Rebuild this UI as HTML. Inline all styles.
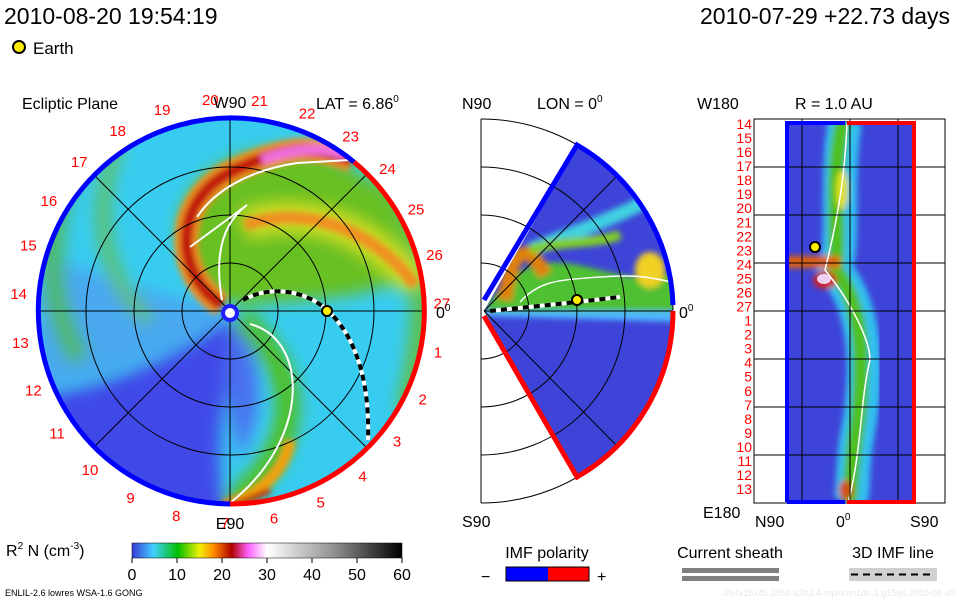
<!DOCTYPE html>
<html><head><meta charset="utf-8"><style>
body{margin:0;background:#fff;}
svg text{font-family:"Liberation Sans",sans-serif;}
</style></head><body>
<svg width="960" height="600" viewBox="0 0 960 600" xmlns="http://www.w3.org/2000/svg">
<defs>
<clipPath id="disk"><circle cx="230" cy="311" r="193"/></clipPath>
<clipPath id="wedge"><path d="M484,311 L577,145 A192,192 0 0 1 577,477 Z"/></clipPath>
<clipPath id="strip"><rect x="786" y="121" width="129" height="382"/></clipPath>
<filter id="bl" x="-30%" y="-30%" width="160%" height="160%"><feGaussianBlur stdDeviation="8"/></filter>
<filter id="bl2" x="-20%" y="-20%" width="140%" height="140%"><feGaussianBlur stdDeviation="3"/></filter>
<linearGradient id="cbar" x1="0" x2="1">
<stop offset="0" stop-color="#3a3ad8"/><stop offset="0.08" stop-color="#40d0ff"/><stop offset="0.17" stop-color="#00c000"/><stop offset="0.25" stop-color="#f0f000"/><stop offset="0.3" stop-color="#ff9000"/><stop offset="0.37" stop-color="#b00000"/><stop offset="0.43" stop-color="#ff60ff"/><stop offset="0.5" stop-color="#ffffff"/><stop offset="0.75" stop-color="#909090"/><stop offset="1" stop-color="#000000"/>
</linearGradient>
</defs>

<text x="4" y="24" font-size="23" fill="#000">2010-08-20 19:54:19</text>
<text x="950" y="24" font-size="23" fill="#000" text-anchor="end">2010-07-29 +22.73 days</text>
<circle cx="19" cy="47" r="6" fill="#ffee00" stroke="#000" stroke-width="2"/>
<text x="33" y="54" font-size="17">Earth</text>

<g>
<text x="22" y="109" font-size="16">Ecliptic Plane</text>
<text x="316" y="109" font-size="16">LAT = 6.86<tspan font-size="10" dy="-7">0</tspan></text>
<g clip-path="url(#disk)">
<circle cx="230" cy="311" r="193" fill="#38ccf0"/>
<g filter="url(#bl)">
<path d="M37,250 C100,280 180,300 230,311 C190,350 100,380 37,390 Z" fill="#48a8f0"/>
<path d="M230,318 C170,360 100,390 37,395 L37,520 L230,520 C205,450 235,380 230,318 Z" fill="#4048e8"/>
<path d="M232,318 C260,350 270,400 240,460 L225,380 Z" fill="#4a70f0"/>
<path d="M230,305 C175,280 150,200 230,160 C300,130 385,160 425,260 C400,300 300,300 230,305 Z" fill="#68c020"/>
<path d="M70,170 C45,230 45,300 80,360" stroke="#50b860" stroke-width="22" fill="none"/>
<path d="M120,140 C90,200 100,280 150,320" stroke="#60c060" stroke-width="14" fill="none"/>
<path d="M380,170 C425,230 432,320 405,410" stroke="#60c040" stroke-width="20" fill="none"/>
<path d="M245,225 C300,205 370,225 415,285" stroke="#d0e020" stroke-width="28" fill="none"/>
<path d="M240,318 C300,370 310,440 230,505" stroke="#50c020" stroke-width="24" fill="none"/>
</g>
<g filter="url(#bl2)">
<path d="M222,305 C175,275 170,200 235,170 S320,150 352,160" stroke="#f09020" stroke-width="24" fill="none"/>
<path d="M222,305 C175,275 170,200 235,170 S320,150 352,160" stroke="#c01810" stroke-width="12" fill="none"/>
<path d="M262,160 C290,150 320,145 345,155" stroke="#f070e0" stroke-width="10" fill="none"/>
<path d="M245,225 C300,205 370,225 415,285" stroke="#f09020" stroke-width="12" fill="none"/>
<path d="M290,440 C285,470 260,495 225,505" stroke="#f0a010" stroke-width="12" fill="none"/>
<path d="M270,490 C250,500 235,505 220,506" stroke="#c02010" stroke-width="6" fill="none"/>
</g>
<g stroke="#000" stroke-width="1" fill="none">
<circle cx="230" cy="311" r="48"/><circle cx="230" cy="311" r="96"/><circle cx="230" cy="311" r="144"/>
<line x1="37" y1="311" x2="423" y2="311"/><line x1="230" y1="118" x2="230" y2="504"/>
<line x1="93" y1="174" x2="367" y2="448"/><line x1="93" y1="448" x2="367" y2="174"/>
</g>
<g stroke="#fff" stroke-width="2" fill="none">
<path d="M250,324 C310,340 310,440 230,503"/>
<path d="M222,300 C215,260 220,225 247,205 L190,247"/>
<path d="M197,217 C215,190 250,170 297,163 L350,160"/>
</g>
<path d="M243,300 C270,285 305,290 327,310 C355,335 370,380 368,440" stroke="#fff" stroke-width="4" fill="none"/>
<path d="M243,300 C270,285 305,290 327,310 C355,335 370,380 368,440" stroke="#000" stroke-width="4" stroke-dasharray="6,5" fill="none"/>
</g>
<path d="M354,162 A193,193 0 1 0 230,504" stroke="#0000ff" stroke-width="5" fill="none"/>
<path d="M354,162 A193,193 0 0 1 230,504" stroke="#ff0000" stroke-width="5" fill="none"/>
<circle cx="230" cy="313" r="7" fill="#fff" stroke="#2020ff" stroke-width="4"/>
<circle cx="327" cy="311" r="5" fill="#ffee00" stroke="#000" stroke-width="2"/>
<g id="carr" font-size="15" fill="#ff0000" text-anchor="middle"></g>
<text x="230" y="108" font-size="16" text-anchor="middle">W90</text>
<text x="230" y="529" font-size="16" text-anchor="middle">E90</text>
<text x="436" y="318" font-size="16">0<tspan font-size="10" dy="-7">0</tspan></text>
</g>

<g>
<text x="462" y="109" font-size="16">N90</text>
<text x="537" y="109" font-size="16">LON = 0<tspan font-size="10" dy="-7">0</tspan></text>
<text x="462" y="527" font-size="16">S90</text>
<text x="679" y="318" font-size="16">0<tspan font-size="10" dy="-7">0</tspan></text>
<g clip-path="url(#wedge)">
<rect x="480" y="140" width="200" height="340" fill="#3e44d8"/>
<g filter="url(#bl2)">
<path d="M484,311 C520,250 560,260 600,270 S660,280 680,270 L680,311 Z" fill="#50c030"/>
<path d="M530,250 C580,230 640,210 680,180" stroke="#40d0e0" stroke-width="14" fill="none"/>
<path d="M505,300 C510,255 525,235 545,275" stroke="#e08010" stroke-width="14" fill="none"/>
<path d="M530,250 C560,240 590,245 620,235" stroke="#80d020" stroke-width="10" fill="none"/>
<path d="M484,311 L680,311 L680,322 L484,316 Z" fill="#50b8ff"/>
<ellipse cx="650" cy="270" rx="15" ry="18" fill="#f0d020"/>
</g>
<path d="M520,302 C540,280 560,280 600,277 S650,278 672,282" stroke="#fff" stroke-width="1.5" fill="none"/>
</g>
<g stroke="#000" stroke-width="1" fill="none">
<line x1="481" y1="119" x2="481" y2="503"/>
<path d="M481,263 A48,48 0 0 1 481,359"/><path d="M481,215 A96,96 0 0 1 481,407"/><path d="M481,167 A144,144 0 0 1 481,455"/><path d="M481,119 A192,192 0 0 1 481,503"/>
<line x1="484" y1="311" x2="672" y2="311"/><line x1="484" y1="311" x2="617" y2="176"/><line x1="484" y1="311" x2="617" y2="446"/>
</g>
<path d="M484,300 L577,145 A192,192 0 0 1 673,305" stroke="#0000ff" stroke-width="5" fill="none"/>
<path d="M484,316 L577,477 A192,192 0 0 0 673,311" stroke="#ff0000" stroke-width="5" fill="none"/>
<path d="M490,311 L577,302 L620,297" stroke="#fff" stroke-width="4" fill="none"/>
<path d="M490,311 L577,302 L620,297" stroke="#000" stroke-width="4" stroke-dasharray="6,5" fill="none"/>
<circle cx="577" cy="300" r="5" fill="#ffee00" stroke="#000" stroke-width="2"/>
</g>

<g>
<text x="697" y="109" font-size="16">W180</text>
<text x="795" y="109" font-size="16">R = 1.0 AU</text>
<text x="703" y="518" font-size="16">E180</text>
<text x="755" y="527" font-size="16">N90</text>
<text x="836" y="527" font-size="16">0<tspan font-size="10" dy="-7">0</tspan></text>
<text x="910" y="527" font-size="16">S90</text>
<rect x="754" y="119" width="191" height="384" fill="none" stroke="#000"/>
<g clip-path="url(#strip)">
<rect x="786" y="121" width="129" height="382" fill="#3e44d8"/>
<g filter="url(#bl2)">
<path d="M845,121 C835,180 845,240 835,270 C860,300 870,350 860,420 C850,470 855,490 850,503" stroke="#30c0f0" stroke-width="34" fill="none"/>
<path d="M843,121 C830,180 840,240 835,270 C860,300 865,350 858,420 C850,470 852,490 848,503" stroke="#50c020" stroke-width="16" fill="none"/>
<path d="M786,262 L840,262" stroke="#e06010" stroke-width="12"/>
<ellipse cx="825" cy="280" rx="12" ry="9" fill="#d02020"/>
<ellipse cx="846" cy="490" rx="7" ry="10" fill="#d05010"/>
<ellipse cx="842" cy="190" rx="6" ry="20" fill="#e0e020"/>
</g>
<ellipse cx="824" cy="279" rx="7" ry="5" fill="#f0d0f0"/>
<path d="M847,124 C845,170 840,210 825,270 C850,300 870,340 870,360 C860,400 862,450 848,503" stroke="#fff" stroke-width="1.5" fill="none"/>
</g>
<g stroke="#000" stroke-width="1">
<line x1="802" y1="119" x2="802" y2="503"/><line x1="850" y1="119" x2="850" y2="503"/><line x1="898" y1="119" x2="898" y2="503"/>
<line x1="754" y1="167" x2="945" y2="167"/><line x1="754" y1="215" x2="945" y2="215"/><line x1="754" y1="263" x2="945" y2="263"/><line x1="754" y1="311" x2="945" y2="311"/><line x1="754" y1="359" x2="945" y2="359"/><line x1="754" y1="407" x2="945" y2="407"/><line x1="754" y1="455" x2="945" y2="455"/>
</g>
<path d="M787,502 L787,123 L845,123" stroke="#0000ff" stroke-width="4" fill="none"/>
<path d="M847,123 L914,123 L914,502 L847,502" stroke="#ff0000" stroke-width="4" fill="none"/>
<path d="M787,502 L845,502" stroke="#0000ff" stroke-width="4"/>
<circle cx="815" cy="247" r="5" fill="#ffee00" stroke="#000" stroke-width="2"/>
<g id="stripLabels" font-size="14" fill="#ff0000" text-anchor="end"></g>
</g>

<text x="6" y="556" font-size="16">R<tspan font-size="10" dy="-7">2</tspan><tspan dy="7"> N (cm</tspan><tspan font-size="10" dy="-7">-3</tspan><tspan dy="7">)</tspan></text>
<rect x="132" y="543" width="270" height="15" fill="url(#cbar)" stroke="#000" stroke-width="0.5"/>
<g id="cbTicks" font-size="16" text-anchor="middle"></g>
<text x="5" y="596" font-size="9">ENLIL-2.6 lowres WSA-1.6 GONG</text>
<text x="955" y="596" font-size="9" fill="#e8e8e8" text-anchor="end">.//64x15x45.2068-a2b2.4-mplumn1de-1.g15q0   2010-08-20</text>
<text x="547" y="558" font-size="16" text-anchor="middle">IMF polarity</text>
<text x="481" y="582" font-size="16">−</text>
<rect x="506" y="567" width="42" height="14" fill="#0000ff"/>
<rect x="548" y="567" width="41" height="14" fill="#ff0000"/>
<rect x="506" y="567" width="83" height="14" fill="none" stroke="#000"/>
<text x="597" y="582" font-size="16">+</text>
<text x="730" y="558" font-size="16" text-anchor="middle">Current sheath</text>
<rect x="682" y="568" width="97" height="5" fill="#808080"/>
<rect x="682" y="576" width="97" height="5" fill="#808080"/>
<text x="893" y="558" font-size="16" text-anchor="middle">3D IMF line</text>
<rect x="849" y="568" width="88" height="13" fill="#d0d0d0"/>
<line x1="851" y1="574.5" x2="935" y2="574.5" stroke="#000" stroke-width="2" stroke-dasharray="7,5"/>
</svg>
<script>
const ns='http://www.w3.org/2000/svg';
const cbTickValues=[0,10,20,30,40,50,60];
const carringtonLabels=['1','2','3','4','5','6','7','8','9','10','11','12','13','14','15','16','17','18','19','20','21','22','23','24','25','26','27'];
const stripLabelValues=['14','15','16','17','18','19','20','21','22','23','24','25','26','27','1','2','3','4','5','6','7','8','9','10','11','12','13'];
const cbX=v=>132+v/60*270;
const cg=document.getElementById('cbTicks');
cbTickValues.forEach(v=>{const t=document.createElementNS(ns,'text');
t.setAttribute('x',cbX(v));t.setAttribute('y',580);t.textContent=v;


cg.appendChild(t);
const l=document.createElementNS(ns,'line');l.setAttribute('x1',cbX(v));l.setAttribute('x2',cbX(v));l.setAttribute('y1',558);l.setAttribute('y2',563);l.setAttribute('stroke','#000');cg.appendChild(l);});
const g=document.getElementById('carr');
carringtonLabels.forEach((s,i)=>{const ang=(i+0.85)*360/27*Math.PI/180;
const r=212;const x=230+r*Math.cos(ang), y=311+r*Math.sin(ang)+5;
const t=document.createElementNS(ns,'text');t.setAttribute('x',x.toFixed(1));t.setAttribute('y',y.toFixed(1));t.textContent=s;


g.appendChild(t);});
const sg=document.getElementById('stripLabels');
stripLabelValues.forEach((s,i)=>{const t=document.createElementNS(ns,'text');
t.setAttribute('x',752);t.setAttribute('y',(129+i*14.04).toFixed(1));t.textContent=s;


sg.appendChild(t);});
</script>
</body></html>
